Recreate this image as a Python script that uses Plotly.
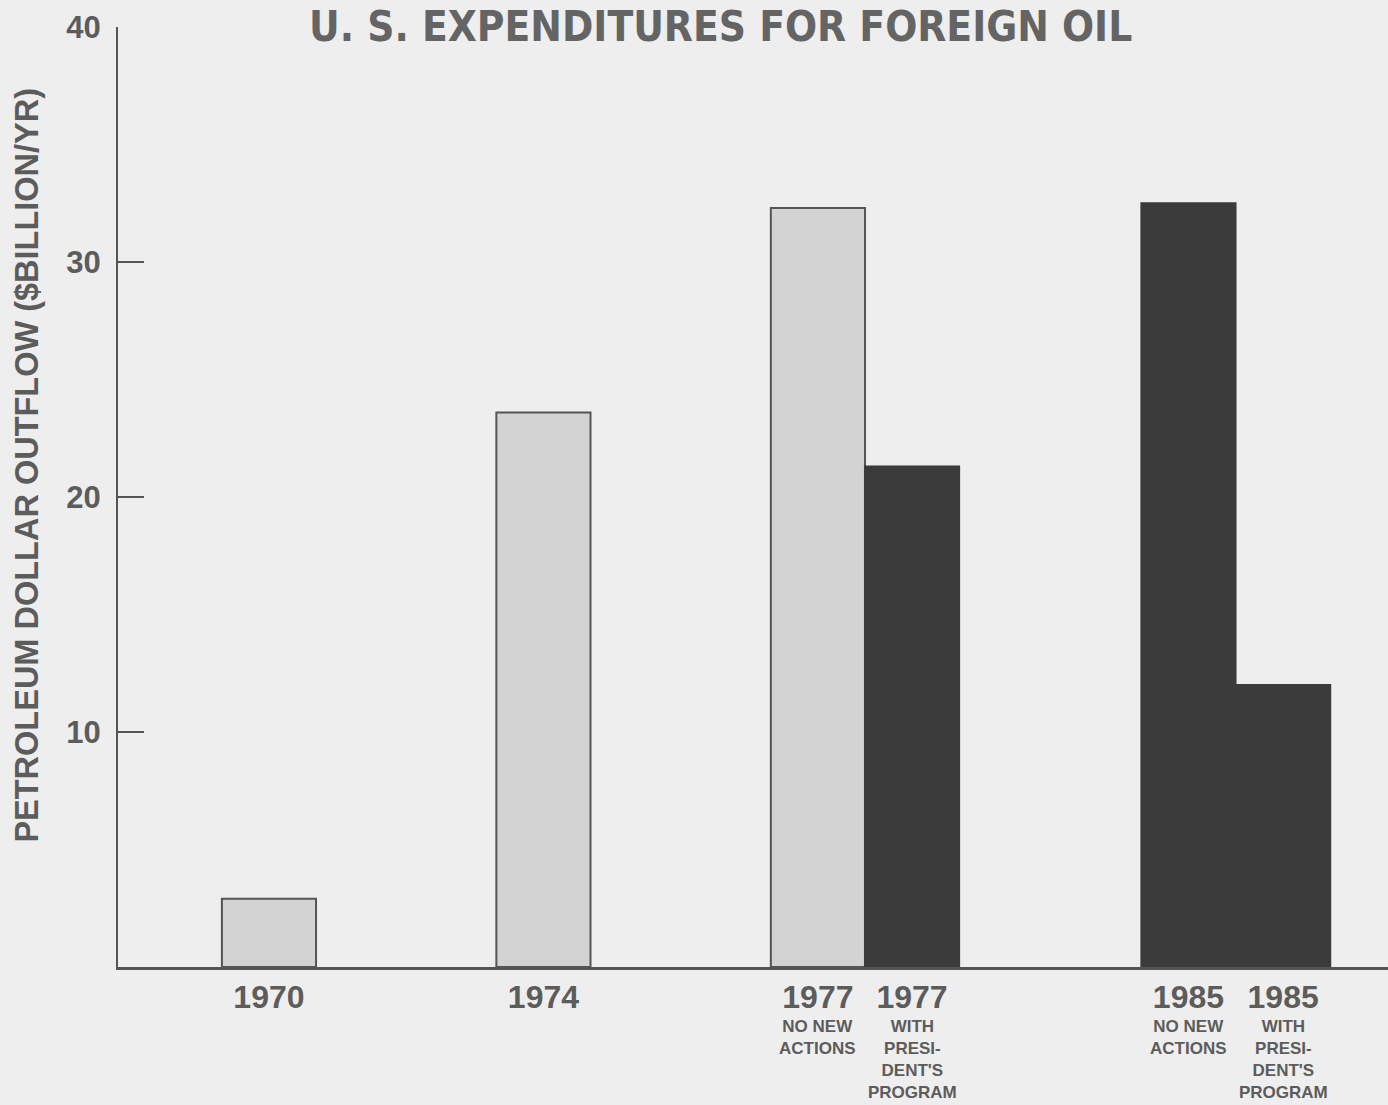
import plotly.graph_objects as go

# ---- data ----
categories = ["1970", "1974", "1977 NO NEW ACTIONS", "1977 WITH PRESIDENT'S PROGRAM",
              "1985 NO NEW ACTIONS", "1985 WITH PRESIDENT'S PROGRAM"]
year_labels = ["1970", "1974", "1977", "1977", "1985", "1985"]
sub_labels = ["", "", "NO NEW<br>ACTIONS", "WITH<br>PRESI-<br>DENT'S<br>PROGRAM",
              "NO NEW<br>ACTIONS", "WITH<br>PRESI-<br>DENT'S<br>PROGRAM"]
values = [2.9, 23.6, 32.3, 21.3, 32.5, 12.0]   # $ billion / yr
shade = ["light", "light", "light", "dark", "dark", "dark"]
y_ticks = [10, 20, 30, 40]

# ---- layout helpers ----
x_pos = [0, 1, 2, 2.343, 3.35, 3.695]
bar_w = 0.343
BG = "#eeeeee"
INK = "#5c5c5c"
fills = {"light": "#d3d3d3", "dark": "#3b3b3b"}
lines = {"light": "#555555", "dark": "#3b3b3b"}

fig = go.Figure()
fig.add_trace(go.Bar(
    x=x_pos, y=values, width=bar_w,
    marker=dict(color=[fills[s] for s in shade],
                line=dict(color=[lines[s] for s in shade], width=2)),
    hovertext=categories, hoverinfo="text+y",
))

annotations = []
for xp, sl in zip(x_pos, sub_labels):
    if sl:
        annotations.append(dict(
            x=xp, xref="x", y=-0.051, yref="paper", yanchor="top", xanchor="center",
            text=sl, showarrow=False,
            font=dict(family="Liberation Sans", size=17, color=INK, weight="bold"),
        ))
annotations.append(dict(
    x=-0.072, xref="paper", y=0.534, yref="paper", xanchor="center", yanchor="middle",
    text="PETROLEUM DOLLAR OUTFLOW ($BILLION/YR)", textangle=-90, showarrow=False,
    font=dict(family="Liberation Sans", size=32.5, color=INK, weight="bold"),
))
annotations.append(dict(
    x=(720 - 118) / 1270, xref="paper", y=1.0, yref="paper", xanchor="center", yanchor="top",
    yshift=26, borderpad=0,
    text="U. S. EXPENDITURES FOR FOREIGN OIL", showarrow=False,
    font=dict(family="DejaVu Sans Condensed, Liberation Sans", size=42, color="#646464",
              weight="bold"),
))

fig.update_layout(
    width=1388, height=1105,
    margin=dict(l=118, r=0, t=27, b=138),
    paper_bgcolor=BG, plot_bgcolor=BG,
    showlegend=False,
    annotations=annotations,
    xaxis=dict(
        range=[-0.55, 4.077], tickvals=x_pos, ticktext=year_labels,
        showgrid=False, zeroline=False, showline=True, linecolor="#555555", linewidth=3,
        ticks="", tickfont=dict(family="Liberation Sans", size=32, color=INK, weight="bold"),
    ),
    yaxis=dict(
        range=[0, 40], tickvals=y_ticks, showgrid=False, zeroline=False,
        showline=True, linecolor="#555555", linewidth=2,
        ticks="inside", ticklen=26, tickwidth=2, tickcolor="#555555",
        ticklabelstandoff=9,
        tickfont=dict(family="Liberation Sans", size=31, color=INK, weight="bold"),
    ),
)

page_css = ("document.documentElement.style.background='%s';"
            "document.body.style.background='%s';"
            "document.body.style.margin='0';"
            "document.body.style.overflow='hidden';") % (BG, BG)

fig.write_html("out.html", post_script=page_css, config={"displayModeBar": False})
